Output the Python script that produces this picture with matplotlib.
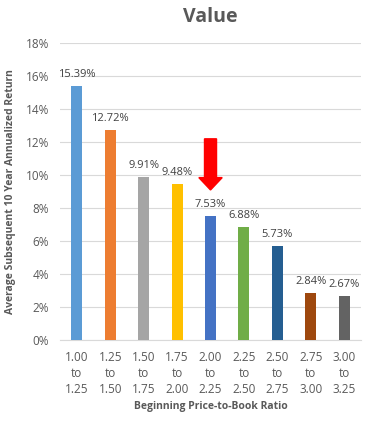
import matplotlib.pyplot as plt
import numpy as np

plt.rcParams['font.family'] = ['Open Sans', 'DejaVu Sans']

# data
ranges = ["1.00\nto\n1.25", "1.25\nto\n1.50", "1.50\nto\n1.75", "1.75\nto\n2.00",
          "2.00\nto\n2.25", "2.25\nto\n2.50", "2.50\nto\n2.75", "2.75\nto\n3.00",
          "3.00\nto\n3.25"]
returns = [15.39, 12.72, 9.91, 9.48, 7.53, 6.88, 5.73, 2.84, 2.67]
colors = ["#5B9BD5", "#ED7D31", "#A5A5A5", "#FFC000", "#4472C4",
          "#70AD47", "#255E91", "#9E480E", "#636363"]
yticks = [0, 2, 4, 6, 8, 10, 12, 14, 16, 18]

txt = "#595959"

fig = plt.figure(figsize=(3.69, 4.23), dpi=100)
ax = fig.add_axes([0.163, 0.196, 0.815, 0.702])

x = np.arange(len(returns))
ax.bar(x, returns, width=0.33, color=colors, zorder=3)
for xi, v in zip(x, returns):
    ax.text(xi, v + 0.35, "%.2f%%" % v, ha="center", va="bottom",
            fontsize=8, color="#404040", zorder=4)

# red arrow pointing at the 2.00-2.25 bucket
ax.add_patch(plt.Polygon([[4 - 0.18, 12.2], [4 + 0.18, 12.2], [4 + 0.18, 9.85],
                          [4 + 0.35, 9.85], [4, 9.1], [4 - 0.35, 9.85],
                          [4 - 0.18, 9.85]], closed=True, color="#FF0000",
                         zorder=5))

ax.set_xlim(-0.5, 8.5)
ax.set_ylim(0, 18)
ax.set_yticks(yticks)
ax.set_yticklabels(["%d%%" % t for t in yticks])
ax.set_xticks(x)
ax.set_xticklabels(ranges, linespacing=1.28)
ax.tick_params(axis="both", length=0, labelsize=8.5, colors=txt)
ax.tick_params(axis="x", pad=8)
ax.tick_params(axis="y", pad=8)
ax.grid(axis="y", color="#D9D9D9", linewidth=0.8, zorder=0)
for s in ["top", "right", "left"]:
    ax.spines[s].set_visible(False)
ax.spines["bottom"].set_color("#D9D9D9")

ax.set_title("Value", fontsize=14, fontweight="bold", color=txt, pad=15)
ax.set_ylabel("Average Subsequent 10 Year Annualized Return", fontsize=7.5,
              fontweight="bold", color=txt, labelpad=7)
ax.set_xlabel("Beginning Price-to-Book Ratio", fontsize=7.5,
              fontweight="bold", color=txt)
ax.xaxis.set_label_coords(0.5, -0.205)

plt.savefig("out.png", dpi=100)
